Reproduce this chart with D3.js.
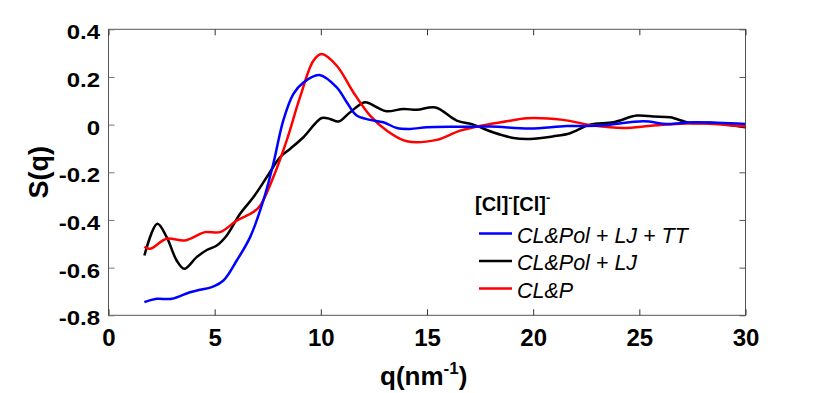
<!DOCTYPE html>
<html>
<head>
<meta charset="utf-8">
<script src="https://cdn.jsdelivr.net/npm/d3@7"></script>
<style>
  html, body { margin: 0; padding: 0; background: #fff; }
  svg { display: block; font-family: "Liberation Sans", Arial, sans-serif; }
</style>
</head>
<body>
<div id="canvas"></div>
<script>
// S(q) for [Cl]-[Cl]- pairs, three force-field models
var xTicks = [0, 5, 10, 15, 20, 25, 30],
	yTicks = [-0.8, -0.6, -0.4, -0.2, 0, 0.2, 0.4],
	yTickLabels = ['-0.8', '-0.6', '-0.4', '-0.2', '0', '0.2', '0.4'],
	seriesNames = ['CL&Pol + LJ + TT', 'CL&Pol + LJ', 'CL&P'],
	seriesColors = ['#0000ff', '#000000', '#ff0000'];

var qBlue = [1.69, 2.27, 2.98, 3.84, 4.31, 4.86, 5.41, 6.04, 6.67, 7.29, 7.76, 8.23, 8.71, 9.18, 9.93, 10.75, 11.22, 11.69, 12.32, 12.94, 13.58, 14.2, 15.0, 16.5, 18.0, 19.85, 21.58, 23.15, 25.2, 26.3, 27.55, 30.0],
	sBlue = [-0.745, -0.731, -0.731, -0.703, -0.693, -0.682, -0.654, -0.570, -0.472, -0.319, -0.165, 0.017, 0.129, 0.177, 0.208, 0.156, 0.094, 0.038, 0.020, 0.010, -0.014, -0.018, -0.011, -0.009, -0.008, -0.016, -0.006, -0.004, 0.014, 0.003, 0.010, 0.003];

var qBlack = [1.69, 2.30, 2.74, 3.21, 3.57, 4.15, 4.63, 5.10, 5.57, 6.19, 6.82, 7.45, 8.08, 8.55, 9.18, 10.04, 10.43, 10.83, 11.38, 12.08, 12.63, 13.1, 13.89, 14.52, 15.4, 16.4, 17.18, 18.1, 19.07, 19.85, 20.95, 21.74, 22.68, 23.78, 24.88, 25.66, 26.45, 27.4, 28.5, 30.0],
	sBlack = [-0.549, -0.416, -0.472, -0.570, -0.605, -0.556, -0.526, -0.507, -0.465, -0.375, -0.305, -0.221, -0.137, -0.102, -0.053, 0.028, 0.024, 0.013, 0.052, 0.094, 0.073, 0.056, 0.066, 0.062, 0.072, 0.017, 0.000, -0.032, -0.056, -0.060, -0.049, -0.036, 0.000, 0.010, 0.038, 0.034, 0.031, 0.007, 0.007, -0.011];

var qRed = [1.69, 1.95, 2.74, 3.60, 4.55, 5.25, 6.04, 6.82, 7.14, 7.76, 8.39, 9.02, 9.65, 10.04, 10.75, 11.53, 12.32, 13.1, 14.05, 15.46, 16.56, 17.8, 18.76, 19.7, 21.4, 22.84, 24.25, 25.66, 27.55, 30.0],
	sRed = [-0.512, -0.521, -0.479, -0.486, -0.451, -0.451, -0.403, -0.367, -0.340, -0.221, -0.067, 0.115, 0.268, 0.296, 0.247, 0.136, 0.038, -0.025, -0.070, -0.064, -0.025, 0.000, 0.014, 0.027, 0.020, -0.004, -0.014, -0.004, 0.006, -0.008];

var seriesQ = [qBlue, qBlack, qRed],
	seriesS = [sBlue, sBlack, sRed];

(function() {
	var width = 830, height = 393,
		mLeft = 108.5, mRight = 745.5, mTop = 29.3, mBottom = 315.3;

	var svg = d3.select('#canvas').append('svg')
		.attr('width', width)
		.attr('height', height);

	var x = d3.scaleLinear().domain([0, 30]).range([mLeft, mRight]),
		y = d3.scaleLinear().domain([-0.8, 0.4]).range([mBottom, mTop]);

	// box
	svg.append('rect')
		.attr('x', mLeft).attr('y', mTop)
		.attr('width', mRight - mLeft).attr('height', mBottom - mTop)
		.attr('fill', 'none').attr('stroke', '#555').attr('stroke-width', 1);

	// bottom + top ticks
	var xAxis = svg.append('g')
		.attr('transform', 'translate(0,' + mBottom + ')')
		.call(d3.axisBottom(x).tickValues(xTicks).tickSizeInner(-6).tickSizeOuter(0).tickPadding(12));
	xAxis.select('.domain').remove();
	xAxis.selectAll('line').attr('stroke', '#333');
	xAxis.selectAll('text')
		.attr('fill', '#000')
		.style('font-size', '24px')
		.style('font-weight', 'bold')
		.attr('dy', null)
		.attr('y', 31);

	svg.append('g')
		.attr('transform', 'translate(0,' + mTop + ')')
		.call(d3.axisTop(x).tickValues(xTicks).tickSizeInner(-6).tickSizeOuter(0).tickFormat(''))
		.call(function(g) { g.select('.domain').remove(); g.selectAll('line').attr('stroke', '#333'); });

	// left + right ticks
	svg.append('g')
		.attr('transform', 'translate(' + mLeft + ',0)')
		.call(d3.axisLeft(y).tickValues(yTicks).tickSizeInner(-6).tickSizeOuter(0).tickFormat(''))
		.call(function(g) { g.select('.domain').remove(); g.selectAll('line').attr('stroke', '#777'); });

	svg.append('g')
		.attr('transform', 'translate(' + mRight + ',0)')
		.call(d3.axisRight(y).tickValues(yTicks).tickSizeInner(-6).tickSizeOuter(0).tickFormat(''))
		.call(function(g) { g.select('.domain').remove(); g.selectAll('line').attr('stroke', '#555'); });

	// y labels are drawn a little wide in the reference
	svg.append('g').selectAll('text')
		.data(yTicks)
		.enter()
		.append('text')
		.attr('transform', function(d) { return 'translate(100,' + (y(d) + 10) + ') scale(1.2,1)'; })
		.attr('text-anchor', 'end')
		.style('font-size', '20px')
		.style('font-weight', 'bold')
		.text(function(d, i) { return yTickLabels[i]; });

	// axis titles
	svg.append('text')
		.attr('transform', 'translate(48,' + (mTop + mBottom) / 2 + ') rotate(-90)')
		.attr('text-anchor', 'middle')
		.style('font-size', '27px')
		.style('font-weight', 'bold')
		.text('S(q)');

	var xt = svg.append('text')
		.attr('x', 380).attr('y', 385)
		.style('font-size', '26px')
		.style('font-weight', 'bold');
	xt.append('tspan').text('q(nm');
	xt.append('tspan').attr('dy', -11).style('font-size', '17px').text('-1');
	xt.append('tspan').attr('dy', 11).text(')');

	// curves
	var line = d3.line()
		.x(function(d) { return x(d[0]); })
		.y(function(d) { return y(d[1]); })
		.curve(d3.curveCatmullRom.alpha(0.5));

	svg.append('defs').append('clipPath').attr('id', 'clip')
		.append('rect').attr('x', mLeft).attr('y', mTop).attr('width', mRight - mLeft).attr('height', mBottom - mTop);

	var plot = svg.append('g').attr('clip-path', 'url(#clip)');
	[1, 2, 0].forEach(function(k) {
		var pts = seriesQ[k].map(function(q, i) { return [q, seriesS[k][i]]; });
		plot.append('path')
			.datum(pts)
			.attr('d', line)
			.attr('fill', 'none')
			.attr('stroke', seriesColors[k])
			.attr('stroke-width', 2.5)
			.attr('stroke-linejoin', 'round');
	});

	// legend
	var lt = svg.append('text')
		.attr('x', 475).attr('y', 211)
		.style('font-size', '20px')
		.style('font-weight', 'bold');
	lt.append('tspan').text('[Cl]');
	lt.append('tspan').attr('dy', -9).style('font-size', '13px').text('-');
	lt.append('tspan').attr('dy', 9).text('[Cl]');
	lt.append('tspan').attr('dy', -9).style('font-size', '13px').text('-');

	var legendY = [233.5, 261, 288.5];
	seriesNames.forEach(function(name, i) {
		svg.append('line')
			.attr('x1', 479).attr('x2', 512)
			.attr('y1', legendY[i]).attr('y2', legendY[i])
			.attr('stroke', seriesColors[i])
			.attr('stroke-width', 2.5);
		svg.append('text')
			.attr('x', 517).attr('y', legendY[i] + 9)
			.style('font-size', '21.5px')
			.style('font-style', 'italic')
			.text(name);
	});
})();
</script>
</body>
</html>
